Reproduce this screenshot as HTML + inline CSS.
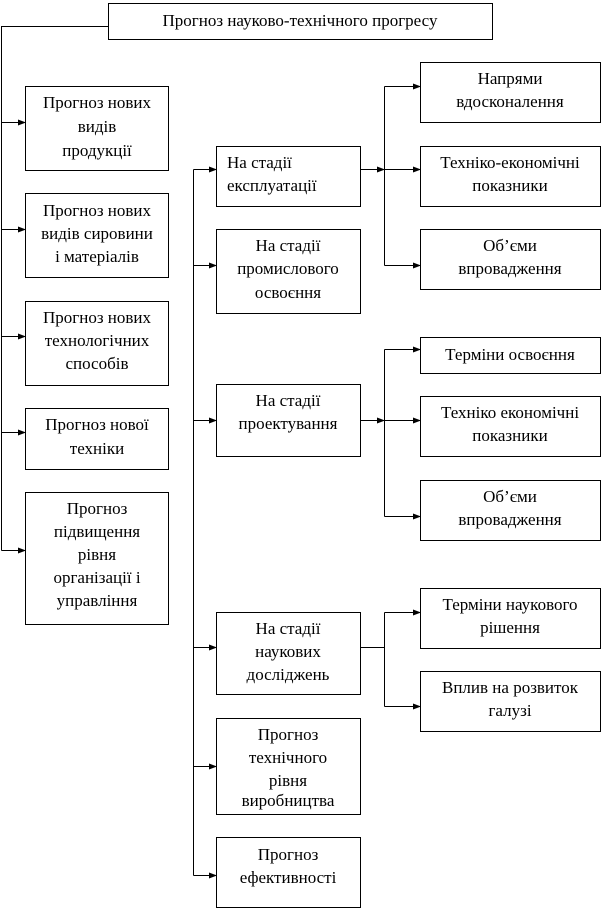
<!DOCTYPE html>
<html><head><meta charset="utf-8"><style>
html,body{margin:0;padding:0;background:#fff}
svg{display:block}
</style></head><body>
<svg width="604" height="913" viewBox="0 0 604 913" xmlns="http://www.w3.org/2000/svg" font-family="'Liberation Serif', 'DejaVu Serif', serif" font-size="17">
<defs><marker id="a" markerWidth="8" markerHeight="6" refX="7" refY="3" orient="auto" markerUnits="userSpaceOnUse"><path d="M0,0 L8,3 L0,6 z" fill="#000"/></marker></defs>
<g fill="none" stroke="#000" stroke-width="1">
<rect x="108.5" y="3.5" width="384" height="36"/>
<rect x="25.5" y="86.5" width="143" height="84"/>
<rect x="25.5" y="193.5" width="143" height="84"/>
<rect x="25.5" y="301.5" width="143" height="84"/>
<rect x="25.5" y="408.5" width="143" height="61"/>
<rect x="25.5" y="492.5" width="143" height="132"/>
<rect x="216.5" y="146.5" width="144" height="60"/>
<rect x="216.5" y="229.5" width="144" height="84"/>
<rect x="216.5" y="384.5" width="144" height="72"/>
<rect x="216.5" y="612.5" width="144" height="82"/>
<rect x="216.5" y="718.5" width="144" height="96"/>
<rect x="216.5" y="837.5" width="144" height="70"/>
<rect x="420.5" y="62.5" width="180" height="60"/>
<rect x="420.5" y="146.5" width="180" height="60"/>
<rect x="420.5" y="229.5" width="180" height="60"/>
<rect x="420.5" y="337.5" width="180" height="36"/>
<rect x="420.5" y="396.5" width="180" height="60"/>
<rect x="420.5" y="480.5" width="180" height="60"/>
<rect x="420.5" y="588.5" width="180" height="60"/>
<rect x="420.5" y="671.5" width="180" height="60"/>
<path d="M108.5,26.5 H1.5 V550.5"/>
<g marker-end="url(#a)">
<path d="M1.5,122.5 H25"/><path d="M1.5,229.5 H25"/><path d="M1.5,336.5 H25"/><path d="M1.5,432.5 H25"/><path d="M1.5,550.5 H25"/>
</g>
<path d="M193.5,169.5 V875.5"/>
<g marker-end="url(#a)">
<path d="M193.5,169.5 H216"/><path d="M193.5,265.5 H216"/><path d="M193.5,420.5 H216"/><path d="M193.5,647.5 H216"/><path d="M193.5,766.5 H216"/><path d="M193.5,875.5 H216"/>
<path d="M360.5,169.5 H384"/><path d="M360.5,420.5 H384"/>
</g>
<path d="M384.5,86.5 V265.5"/><path d="M384.5,349.5 V516.5"/><path d="M360.5,647.5 H384.5"/><path d="M384.5,612.5 V706.5"/>
<g marker-end="url(#a)">
<path d="M384.5,86.5 H420"/><path d="M384.5,169.5 H420"/><path d="M384.5,265.5 H420"/>
<path d="M384.5,349.5 H420"/><path d="M384.5,420.5 H420"/><path d="M384.5,516.5 H420"/>
<path d="M384.5,612.5 H420"/><path d="M384.5,706.5 H420"/>
</g>
</g>
<g text-anchor="middle" fill="#000">
<text x="300" y="26">Прогноз науково-технічного прогресу</text>
<text x="97" y="108">Прогноз нових</text><text x="97" y="132">видів</text><text x="97" y="156">продукції</text>
<text x="97" y="216">Прогноз нових</text><text x="97" y="239">видів сировини</text><text x="97" y="262">і матеріалів</text>
<text x="97" y="323">Прогноз нових</text><text x="97" y="346">технологічних</text><text x="97" y="369">способів</text>
<text x="97" y="430">Прогноз нової</text><text x="97" y="454">техніки</text>
<text x="97" y="514">Прогноз</text><text x="97" y="537">підвищення</text><text x="97" y="560">рівня</text><text x="97" y="583">організації і</text><text x="97" y="606">управління</text>
<text x="288" y="251">На стадії</text><text x="288" y="274">промислового</text><text x="288" y="298">освоєння</text>
<text x="288" y="406">На стадії</text><text x="288" y="429">проектування</text>
<text x="288" y="634">На стадії</text><text x="288" y="657">наукових</text><text x="288" y="680">досліджень</text>
<text x="288" y="740">Прогноз</text><text x="288" y="763">технічного</text><text x="288" y="786">рівня</text><text x="288" y="806">виробництва</text>
<text x="288" y="860">Прогноз</text><text x="288" y="883">ефективності</text>
<text x="510" y="84">Напрями</text><text x="510" y="107">вдосконалення</text>
<text x="510" y="168">Техніко-економічні</text><text x="510" y="191">показники</text>
<text x="510" y="251">Об’єми</text><text x="510" y="274">впровадження</text>
<text x="510" y="360">Терміни освоєння</text>
<text x="510" y="418">Техніко економічні</text><text x="510" y="441">показники</text>
<text x="510" y="502">Об’єми</text><text x="510" y="525">впровадження</text>
<text x="510" y="610">Терміни наукового</text><text x="510" y="633">рішення</text>
<text x="510" y="693">Вплив на розвиток</text><text x="510" y="716">галузі</text>
</g>
<g fill="#000">
<text x="227" y="168">На стадії</text><text x="227" y="191">експлуатації</text>
</g>
</svg>
</body></html>
